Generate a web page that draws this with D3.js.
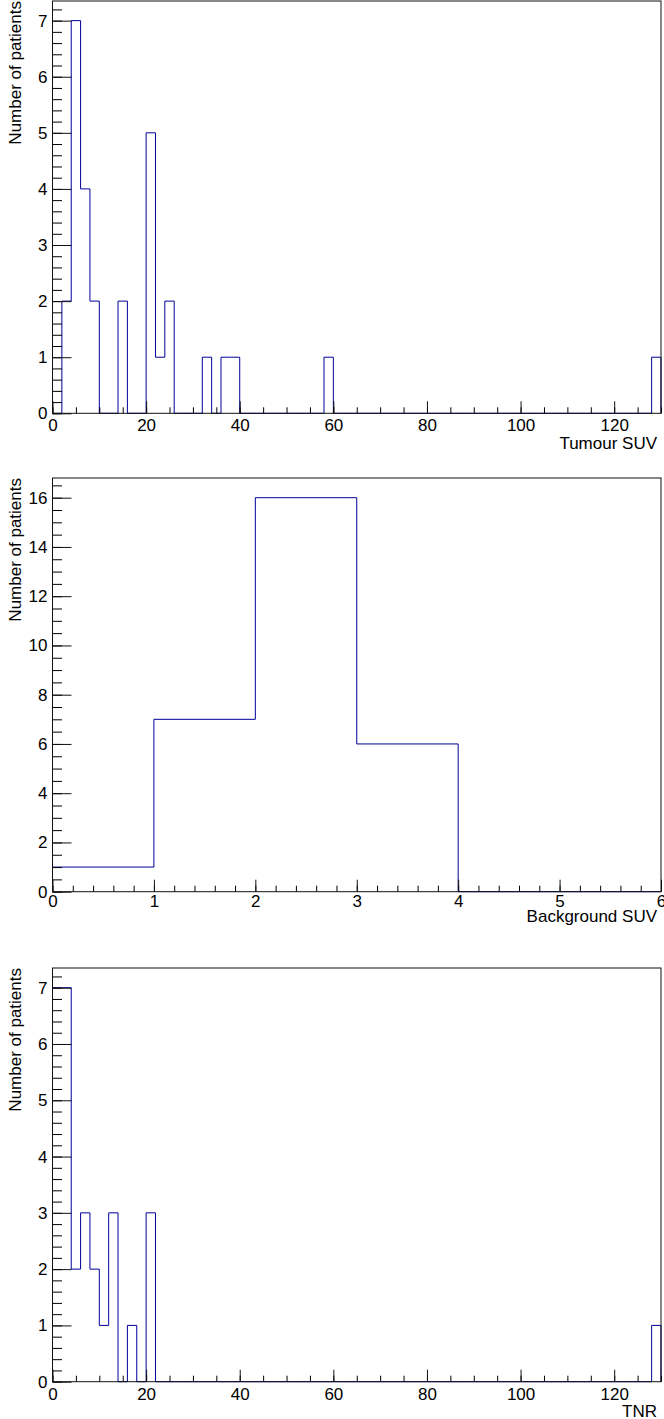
<!DOCTYPE html>
<html>
<head>
<meta charset="utf-8">
<script src="https://cdn.jsdelivr.net/npm/d3@7"></script>
<style>
	body { margin: 0; background: #fff; }
	svg text { font-family: "Liberation Sans", Arial, Helvetica, sans-serif; }
</style>
</head>
<body>
<div id="chart"></div>
<script>
// bin contents, 2-wide bins from 0 to 130
var tumourCounts = [0,2,7,4,2,0,0,2,0,0, 5,1,2,0,0,0,1,0,1,1,
	0,0,0,0,0,0,0,0,0,1, 0,0,0,0,0,0,0,0,0,0,
	0,0,0,0,0,0,0,0,0,0, 0,0,0,0,0,0,0,0,0,0,
	0,0,0,0,1];
// 1-wide bins from 0 to 6
var backgroundCounts = [1,7,16,6,0,0];
// 2-wide bins from 0 to 130
var tnrCounts = [7,7,2,3,2,1,3,0,1,0, 3,0,0,0,0,0,0,0,0,0,
	0,0,0,0,0,0,0,0,0,0, 0,0,0,0,0,0,0,0,0,0,
	0,0,0,0,0,0,0,0,0,0, 0,0,0,0,0,0,0,0,0,0,
	0,0,0,0,1];

var xTitles = ["Tumour SUV", "Background SUV", "TNR"];
var yTitle = "Number of patients";

var width = 664, height = 1419;
var left = 52.5, right = 661;

var panels = [
	{counts: tumourCounts, binWidth: 2, xMax: 130, yMax: 7.35, top: 1, bottom: 413.3,
		xMajor: 20, xMinor: 5, yMajor: 1, yMinor: 0.2, labelPad: 5.4, titleBase: 36},
	{counts: backgroundCounts, binWidth: 1, xMax: 6, yMax: 16.8, top: 478, bottom: 891.7,
		xMajor: 1, xMinor: 0.2, yMajor: 2, yMinor: 0.5, labelPad: 3.6, titleBase: 30},
	{counts: tnrCounts, binWidth: 2, xMax: 130, yMax: 7.35, top: 968, bottom: 1381.7,
		xMajor: 20, xMinor: 5, yMajor: 1, yMinor: 0.2, labelPad: 5.8, titleBase: 35}
];

var svg = d3.select("#chart").append("svg")
	.attr("width", width)
	.attr("height", height);

panels.forEach(function(p, i){
	drawPanel(p, xTitles[i]);
});

function drawPanel(p, xTitle){
	var x = d3.scaleLinear().domain([0, p.xMax]).range([left, right]);
	var y = d3.scaleLinear().domain([0, p.yMax]).range([p.bottom, p.top]);
	var g = svg.append("g");

	//step outline like ROOT "HIST"
	var pts = [[0, 0]];
	p.counts.forEach(function(c, k){
		pts.push([k * p.binWidth, c]);
		pts.push([(k + 1) * p.binWidth, c]);
	});
	pts.push([p.counts.length * p.binWidth, 0]);
	var line = d3.line().x(function(d){ return x(d[0]); }).y(function(d){ return y(d[1]); });
	g.append("path")
		.attr("d", line(pts))
		.attr("fill", "none")
		.attr("stroke", "#000099")
		.attr("stroke-width", 1);

	var xMajors = d3.range(0, p.xMax + 1e-6, p.xMajor);
	var xMinors = d3.range(0, p.xMax + 1e-6, p.xMinor);
	var yMajors = d3.range(0, p.yMax + 1e-6, p.yMajor);
	var yMinors = d3.range(0, p.yMax + 1e-6, p.yMinor);

	// minor ticks
	g.append("g")
		.attr("transform", "translate(0," + p.bottom + ")")
		.call(d3.axisBottom(x).tickValues(xMinors).tickSize(-6).tickSizeOuter(0).tickFormat(""));
	g.append("g")
		.attr("transform", "translate(" + left + ",0)")
		.call(d3.axisLeft(y).tickValues(yMinors).tickSize(-9.5).tickSizeOuter(0).tickFormat(""));

	// major ticks + labels
	var xa = g.append("g")
		.attr("transform", "translate(0," + p.bottom + ")")
		.call(d3.axisBottom(x).tickValues(xMajors).tickSize(-12).tickSizeOuter(0)
			.tickPadding(p.labelPad).tickFormat(d3.format("d")));
	var ya = g.append("g")
		.attr("transform", "translate(" + left + ",0)")
		.call(d3.axisLeft(y).tickValues(yMajors).tickSize(-19).tickSizeOuter(0)
			.tickPadding(5).tickFormat(d3.format("d")));

	[xa, ya].forEach(function(a){
		a.selectAll("text")
			.attr("font-size", 17)
			.attr("fill", "#000")
			.style("font-family", '"Liberation Sans", Arial, Helvetica, sans-serif');
		a.attr("font-family", null);
		a.selectAll("line").attr("stroke", "#111");
	});
	g.selectAll(".domain").remove();

	// frame
	g.append("rect")
		.attr("x", left)
		.attr("y", p.top)
		.attr("width", right - left)
		.attr("height", p.bottom - p.top)
		.attr("fill", "none")
		.attr("stroke", "#111")
		.attr("stroke-width", 1);

	g.append("text")
		.attr("x", 657)
		.attr("y", p.bottom + p.titleBase)
		.attr("text-anchor", "end")
		.attr("font-size", 17)
		.text(xTitle);

	g.append("text")
		.attr("transform", "translate(21," + p.top + ") rotate(-90)")
		.attr("text-anchor", "end")
		.attr("font-size", 17)
		.text(yTitle);
}
</script>
</body>
</html>
